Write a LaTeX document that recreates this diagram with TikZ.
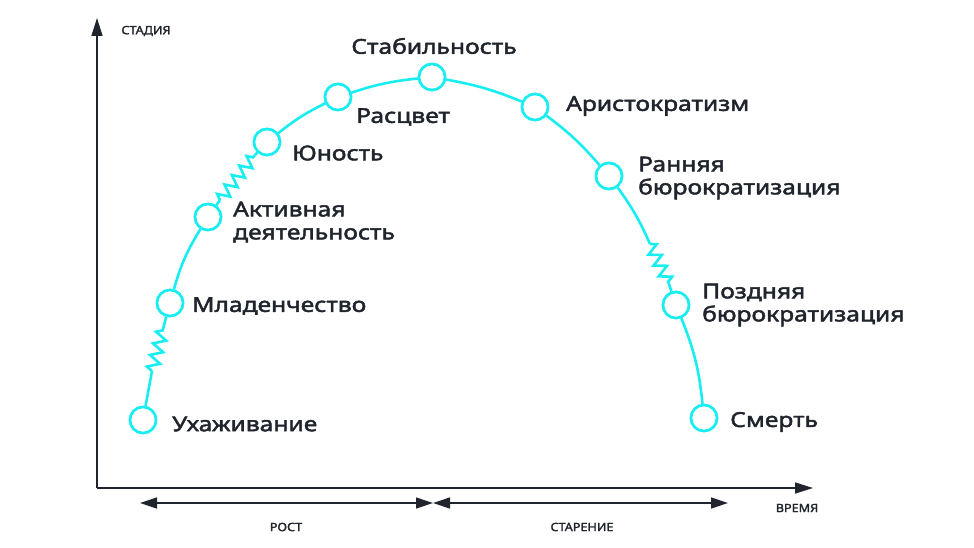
\documentclass[tikz,border=0pt]{standalone}
\usepackage{fontspec}
\setmainfont{Noto Sans}
\newfontfamily\labfont{Noto Sans}[FakeBold=2.2,FakeStretch=1.2]
\newfontfamily\axfont{Noto Sans}[FakeBold=2,FakeStretch=1.1]
\usetikzlibrary{decorations.pathmorphing,arrows.meta}
\definecolor{cy}{RGB}{24,238,242}
\definecolor{ink}{RGB}{32,36,44}
\begin{document}
\begin{tikzpicture}[x=1pt,y=-1pt,
  st/.style={circle,draw=cy,line width=2.6pt,fill=white,minimum size=26pt,inner sep=0pt},
  lab/.style={anchor=west,text=ink,font=\labfont\fontsize{20.5}{23}\selectfont,align=left,inner sep=0pt},
  axl/.style={text=ink,font=\axfont\fontsize{11.5}{13}\selectfont,inner sep=0pt},
  ax/.style={draw=ink,line width=1.6pt},
  cv/.style={draw=cy,line width=2.6pt},
  zz/.style={cv,decorate,decoration={zigzag,segment length=12pt,amplitude=6pt}},
  tip/.style={-{Triangle[length=18pt,width=11pt]}},
  tips/.style={{Triangle[length=17pt,width=11pt]}-{Triangle[length=17pt,width=11pt]}}
]
\useasboundingbox (0,0) rectangle (974,548);
% axes
\coordinate (o) at (97,488);
\coordinate (ytop) at (97,18);
\coordinate (xend) at (813,488);
\draw[ax,tip] (o) -- (ytop);
\draw[ax,tip] (o) -- (xend);
\node[axl] (lstad) at (146,31) {СТАДИЯ};
\node[axl] (lvrem) at (797,508) {ВРЕМЯ};
% bottom arrows
\coordinate (r1) at (140,503);
\coordinate (r2) at (433,503);
\coordinate (s2) at (728,503);
\draw[ax,line width=1.3pt,tips] (r1) -- (r2);
\draw[ax,line width=1.3pt,tips] (r2) -- (s2);
\node[axl] (lrost) at (286,527) {РОСТ};
\node[axl] (lstar) at (582,527) {СТАРЕНИЕ};
% stage circles
\node[st] (c1) at (143,420) {};
\node[st] (c2) at (170,303) {};
\node[st] (c3) at (208,217) {};
\node[st] (c4) at (267,142) {};
\node[st] (c5) at (338,97) {};
\node[st] (c6) at (432,77) {};
\node[st] (c7) at (535,107) {};
\node[st] (c8) at (609,176) {};
\node[st] (c9) at (676,305) {};
\node[st] (c10) at (704,418) {};
% zigzag end points
\coordinate (z1a) at (152,371);
\coordinate (z1b) at (163,329);
\coordinate (z2a) at (220,200);
\coordinate (z2b) at (255,155);
\coordinate (z3a) at (650,244);
\coordinate (z3b) at (669,284);
% curve
\draw[cv] (c1) -- (z1a);
\draw[zz] (z1a) -- (z1b);
\draw[cv] (z1b) -- (c2);
\draw[cv] (c2) to[bend left=8] (c3);
\draw[cv] (c3) -- (z2a);
\draw[zz] (z2a) -- (z2b);
\draw[cv] (z2b) -- (c4);
\draw[cv] (c4) to[bend left=6] (c5);
\draw[cv] (c5) to[bend left=6] (c6);
\draw[cv] (c6) to[bend left=6] (c7);
\draw[cv] (c7) to[bend left=6] (c8);
\draw[cv] (c8) to[bend left=6] (z3a);
\draw[zz] (z3a) -- (z3b);
\draw[cv] (z3b) -- (c9);
\draw[cv] (c9) to[bend left=8] (c10);
% redraw circles on top
\foreach \n in {c1,c2,c3,c4,c5,c6,c7,c8,c9,c10}{\node[st] at (\n) {};}
% labels
\node[lab] (l1) at (172,424) {Ухаживание};
\node[lab] (l2) at (192,306) {Младенчество};
\node[lab] (l3) at (233,222) {Активная\\деятельность};
\node[lab] (l4) at (292,153) {Юность};
\node[lab] (l5) at (356,117) {Расцвет};
\node[lab,anchor=center] (l6) at (434,46) {Стабильность};
\node[lab] (l7) at (566,106) {Аристократизм};
\node[lab] (l8) at (638,178) {Ранняя\\бюрократизация};
\node[lab] (l9) at (702,305) {Поздняя\\бюрократизация};
\node[lab] (l10) at (730,422) {Смерть};
\end{tikzpicture}
\end{document}
